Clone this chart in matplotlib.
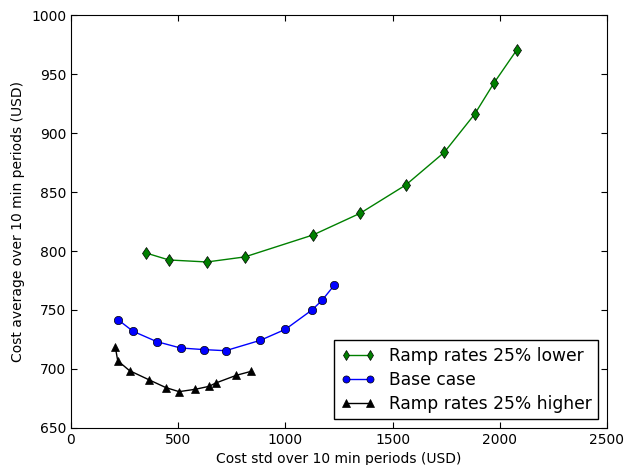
import numpy as np
import matplotlib
matplotlib.use('Agg')
import matplotlib.pyplot as plt

# green: ramp rates 25% lower
lower_std = [350, 457, 634, 811, 1129, 1349, 1562, 1741, 1883, 1973, 2080]
lower_avg = [798.3, 792.4, 790.7, 795.0, 813.6, 832.0, 856.0, 883.6, 916.0, 942.4, 970.6]

# blue: base case
base_std = [219, 289, 400, 511, 622, 721, 883, 1000, 1124, 1171, 1228]
base_avg = [741.8, 732.0, 723.2, 717.8, 716.4, 715.5, 724.3, 733.6, 750.0, 758.2, 771.0]

# black: ramp rates 25% higher
higher_std = [207, 218, 273, 362, 443, 504, 580, 644, 675, 772, 840]
higher_avg = [718.4, 707.0, 698.6, 691.0, 684.2, 680.8, 682.8, 685.3, 688.1, 694.7, 698.0]

plt.rcParams['font.size'] = 10
plt.rcParams['xtick.direction'] = 'in'
plt.rcParams['ytick.direction'] = 'in'
plt.rcParams['xtick.top'] = True
plt.rcParams['ytick.right'] = True

fig = plt.figure(figsize=(6.26, 4.65), dpi=100)
ax = fig.add_axes([0.1134, 0.0796, 0.9696 - 0.1134, 0.9677 - 0.0796])

ax.plot(lower_std, lower_avg, color='#008000', marker='d', markersize=6,
        markeredgecolor='k', markeredgewidth=0.5, lw=1, label='Ramp rates 25% lower')
ax.plot(base_std, base_avg, color='#0000ff', marker='o', markersize=6,
        markeredgecolor='k', markeredgewidth=0.5, lw=1, label='Base case')
ax.plot(higher_std, higher_avg, color='k', marker='^', markersize=6,
        markeredgecolor='k', markeredgewidth=0.5, lw=1, label='Ramp rates 25% higher')

ax.set_xlim(0, 2500)
ax.set_ylim(650, 1000)
ax.set_xticks(np.arange(0, 2501, 500))
ax.set_yticks(np.arange(650, 1001, 50))
ax.tick_params(length=4, width=0.8)
ax.set_xlabel('Cost std over 10 min periods (USD)')
ax.set_ylabel('Cost average over 10 min periods (USD)')

leg = ax.legend(loc='lower right', numpoints=2, fontsize=12.3, fancybox=False,
                framealpha=1, edgecolor='k', borderaxespad=0.5,
                handlelength=2.0, markerscale=0.85, labelspacing=0.35)
leg.get_frame().set_linewidth(1)

fig.savefig('out.png', dpi=100)
